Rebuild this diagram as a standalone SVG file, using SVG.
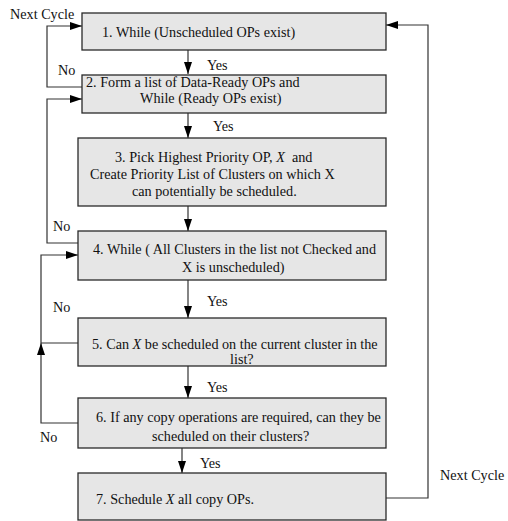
<svg xmlns="http://www.w3.org/2000/svg" width="508" height="521" viewBox="0 0 508 521">
<style>
.box{fill:#e6e6e6;stroke:#2a2a2a;stroke-width:1.3}
.t{font-family:"Liberation Serif","Times New Roman",serif;font-size:14.2px;fill:#111}
.c{fill:none;stroke:#333;stroke-width:1.2}
</style>
<defs>
<marker id="ah" markerUnits="userSpaceOnUse" markerWidth="12" markerHeight="8" refX="12" refY="4" orient="auto">
<path d="M0,0 L12,4 L0,8 z" fill="#000"/>
</marker>
</defs>
<rect width="508" height="521" fill="#fff"/>
<g id="connectors">
<path class="c" d="M188,50 V74" marker-end="url(#ah)"/>
<path class="c" d="M188,113 V138" marker-end="url(#ah)"/>
<path class="c" d="M188,206 V231" marker-end="url(#ah)"/>
<path class="c" d="M188,280 V318" marker-end="url(#ah)"/>
<path class="c" d="M188,366 V398" marker-end="url(#ah)"/>
<path class="c" d="M182,448 V473" marker-end="url(#ah)"/>
<path class="c" d="M82,87 H47 V26 H82" marker-end="url(#ah)"/>
<path class="c" d="M78,243 H47 V99 H82" marker-end="url(#ah)"/>
<path class="c" d="M78,343 H41"/>
<path class="c" d="M78,423 H41 V343" marker-end="url(#ah)"/>
<path class="c" d="M41,343 V255 H78" marker-end="url(#ah)"/>
<path class="c" d="M386,498 H428 V25 H386" marker-end="url(#ah)"/>
<text class="t" x="10" y="19">Next Cycle</text>
<text class="t" x="58" y="75">No</text>
<text class="t" x="53" y="231">No</text>
<text class="t" x="53" y="312">No</text>
<text class="t" x="40" y="442">No</text>
<text class="t" x="207" y="70">Yes</text>
<text class="t" x="213" y="131">Yes</text>
<text class="t" x="207" y="306">Yes</text>
<text class="t" x="207" y="392">Yes</text>
<text class="t" x="200" y="468">Yes</text>
<text class="t" x="440" y="480">Next Cycle</text>
</g>
<g id="n1">
<rect class="box" x="82" y="13" width="304" height="37"/>
<text class="t" x="102" y="37">1. While (Unscheduled OPs exist)</text>
</g>
<g id="n2">
<rect class="box" x="82" y="75" width="304" height="38"/>
<text class="t" x="86" y="87">2. Form a list of Data-Ready OPs and</text>
<text class="t" x="140" y="103">While (Ready OPs exist)</text>
</g>
<g id="n3">
<rect class="box" x="78" y="138" width="308" height="68"/>
<text class="t" x="115" y="162">3. Pick Highest Priority OP, <tspan font-style="italic">X</tspan>&#160; and</text>
<text class="t" x="90" y="179">Create Priority List of Clusters on which X</text>
<text class="t" x="132" y="196">can potentially be scheduled.</text>
</g>
<g id="n4">
<rect class="box" x="78" y="231" width="308" height="49"/>
<text class="t" x="93" y="254">4. While ( All Clusters in the list not Checked and</text>
<text class="t" x="182" y="272">X is unscheduled)</text>
</g>
<g id="n5">
<rect class="box" x="78" y="318" width="308" height="48"/>
<text class="t" x="92" y="349">5. Can <tspan font-style="italic">X</tspan> be scheduled on the current cluster in the</text>
<text class="t" x="230" y="364">list?</text>
</g>
<g id="n6">
<rect class="box" x="78" y="398" width="308" height="50"/>
<text class="t" x="96" y="422">6. If any copy operations are required, can they be</text>
<text class="t" x="152" y="441">scheduled on their clusters?</text>
</g>
<g id="n7">
<rect class="box" x="78" y="473" width="308" height="47"/>
<text class="t" x="96" y="504">7. Schedule <tspan font-style="italic">X</tspan> all copy OPs.</text>
</g>
</svg>
